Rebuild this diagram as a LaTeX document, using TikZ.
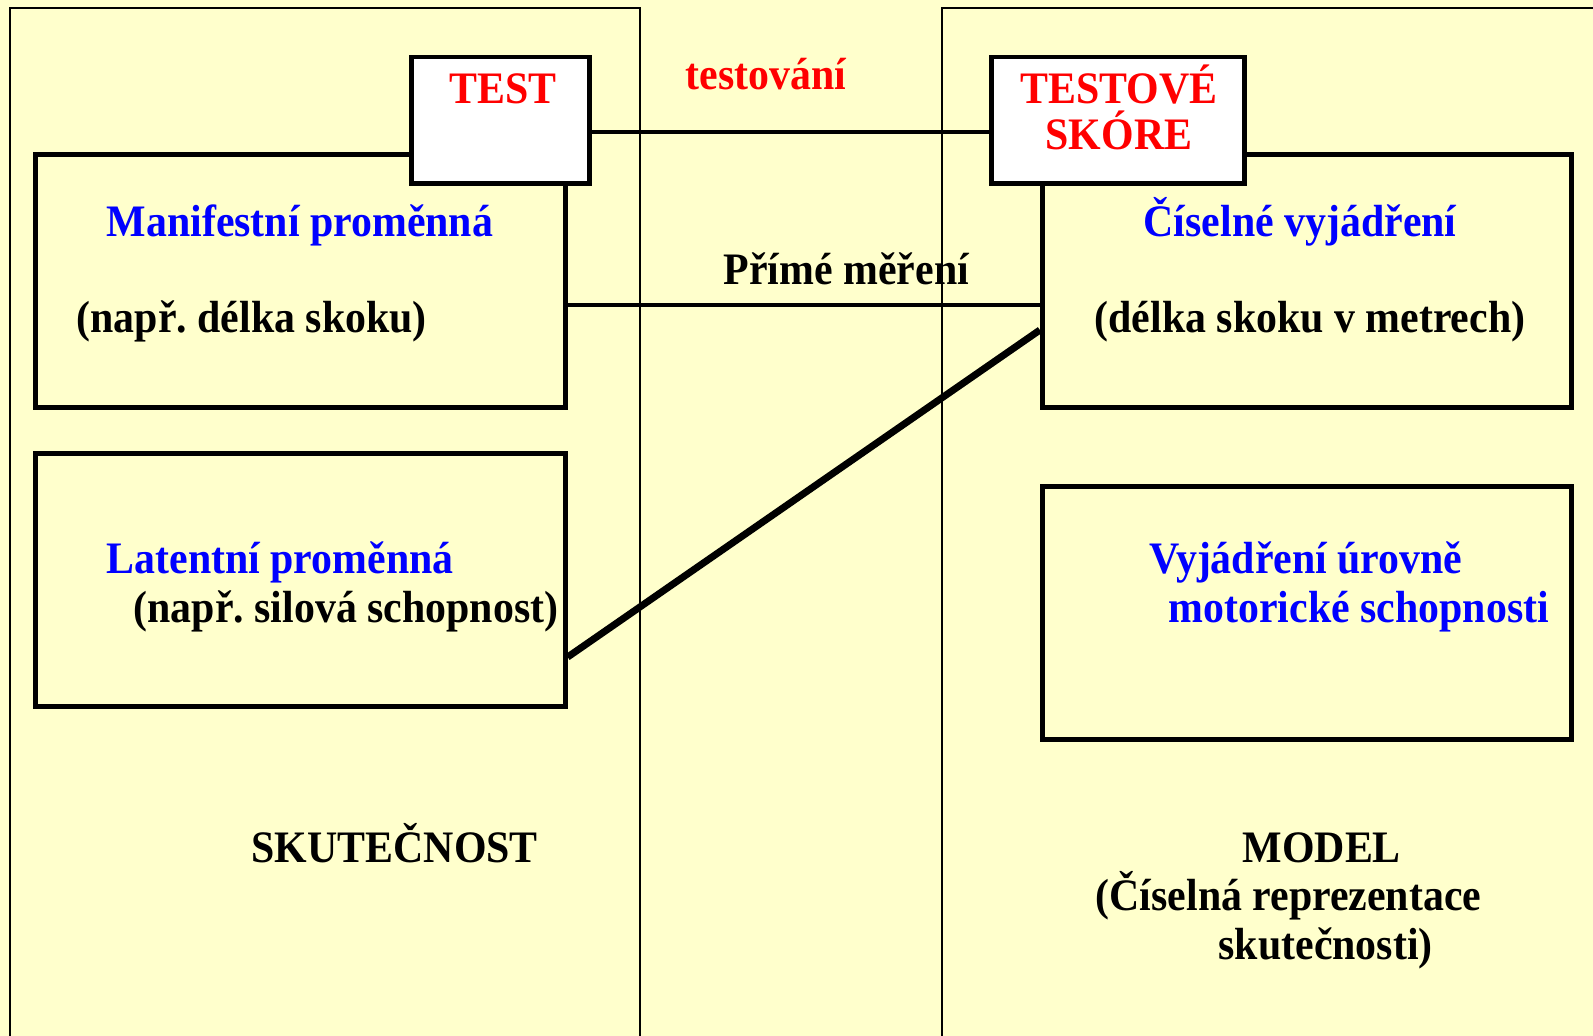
\documentclass[tikz,border=0pt]{standalone}
\usepackage{fontspec}
\setmainfont[FakeStretch=0.93]{Liberation Serif}
\usetikzlibrary{positioning}
\frenchspacing
\definecolor{paleyellow}{RGB}{255,255,204}
\definecolor{txtblue}{RGB}{0,0,255}
\definecolor{txtred}{RGB}{255,0,0}
\tikzset{
    varbox/.style={draw,line width=1.4pt,fill=paleyellow,inner sep=0pt,minimum width=5.29cm,minimum height=2.52cm},
    tagbox/.style={draw,line width=1.4pt,fill=white,inner sep=0pt,minimum height=1.26cm},
    lbl/.style={font=\fontsize{12.8}{15}\selectfont\bfseries,inner sep=0pt,anchor=base west},
    link/.style={line width=0.9pt}
}

\begin{document}
\begin{tikzpicture}[x=0.01cm,y=-0.01cm]
    \fill[paleyellow] (0,0) rectangle (1593,1036);
    \useasboundingbox (0,0) rectangle (1593,1036);

    \draw[line width=0.6pt] (10,1060) |- (640,8) -- (640,1060);
    \draw[line width=0.6pt] (942,1060) |- (1620,8);

    \node[varbox] (manif) at (300.5,281) {};
    \node[varbox] (latent) at (300.5,580) {};
    \node[varbox] (cislo) at (1307,281) {};
    \node[varbox] (uroven) at (1307,613) {};
    \node[tagbox,minimum width=1.77cm] (test) at (500.5,120) {};
    \node[tagbox,minimum width=2.52cm] (skore) at (1118,120) {};

    \draw[link] ([yshift=-0.12cm]test.east) -- ([yshift=-0.12cm]skore.west);
    \draw[link] ([yshift=-0.24cm]manif.east) -- ([yshift=-0.24cm]cislo.west);
    \draw[line width=2pt] ([yshift=-0.77cm]latent.east) -- ([yshift=-0.49cm]cislo.west);

    \node[lbl,txtred] (testlbl) at (449,103) {TEST};
    \node[lbl,txtred] (skore1) at (1020,103) {TESTOVÉ};
    \node[lbl,txtred] (skore2) at (1045,149) {SKÓRE};
    \node[lbl,txtred] (testovani) at (685,89) {testování};
    \node[lbl] (prime) at (723,284) {Přímé měření};

    \node[lbl,txtblue] (maniftxt) at (106,236) {Manifestní proměnná};
    \node[lbl] (manifex) at (76,332) {(např. délka skoku)};
    \node[lbl,txtblue] (latenttxt) at (106,573) {Latentní proměnná};
    \node[lbl] (latentex) at (133,622) {(např. silová schopnost)};

    \node[lbl,txtblue] (cislotxt) at (1143,236) {Číselné vyjádření};
    \node[lbl] (cisloex) at (1094,332) {(délka skoku v metrech)};
    \node[lbl,txtblue] (uroven1) at (1149,573) {Vyjádření úrovně};
    \node[lbl,txtblue] (uroven2) at (1168,622) {motorické schopnosti};

    \node[lbl] (real) at (251,862) {SKUTEČNOST};
    \node[lbl] (model) at (1242,862) {MODEL};
    \node[lbl] (model2) at (1095,910) {(Číselná reprezentace};
    \node[lbl] (model3) at (1218,959) {skutečnosti)};
\end{tikzpicture}
\end{document}
